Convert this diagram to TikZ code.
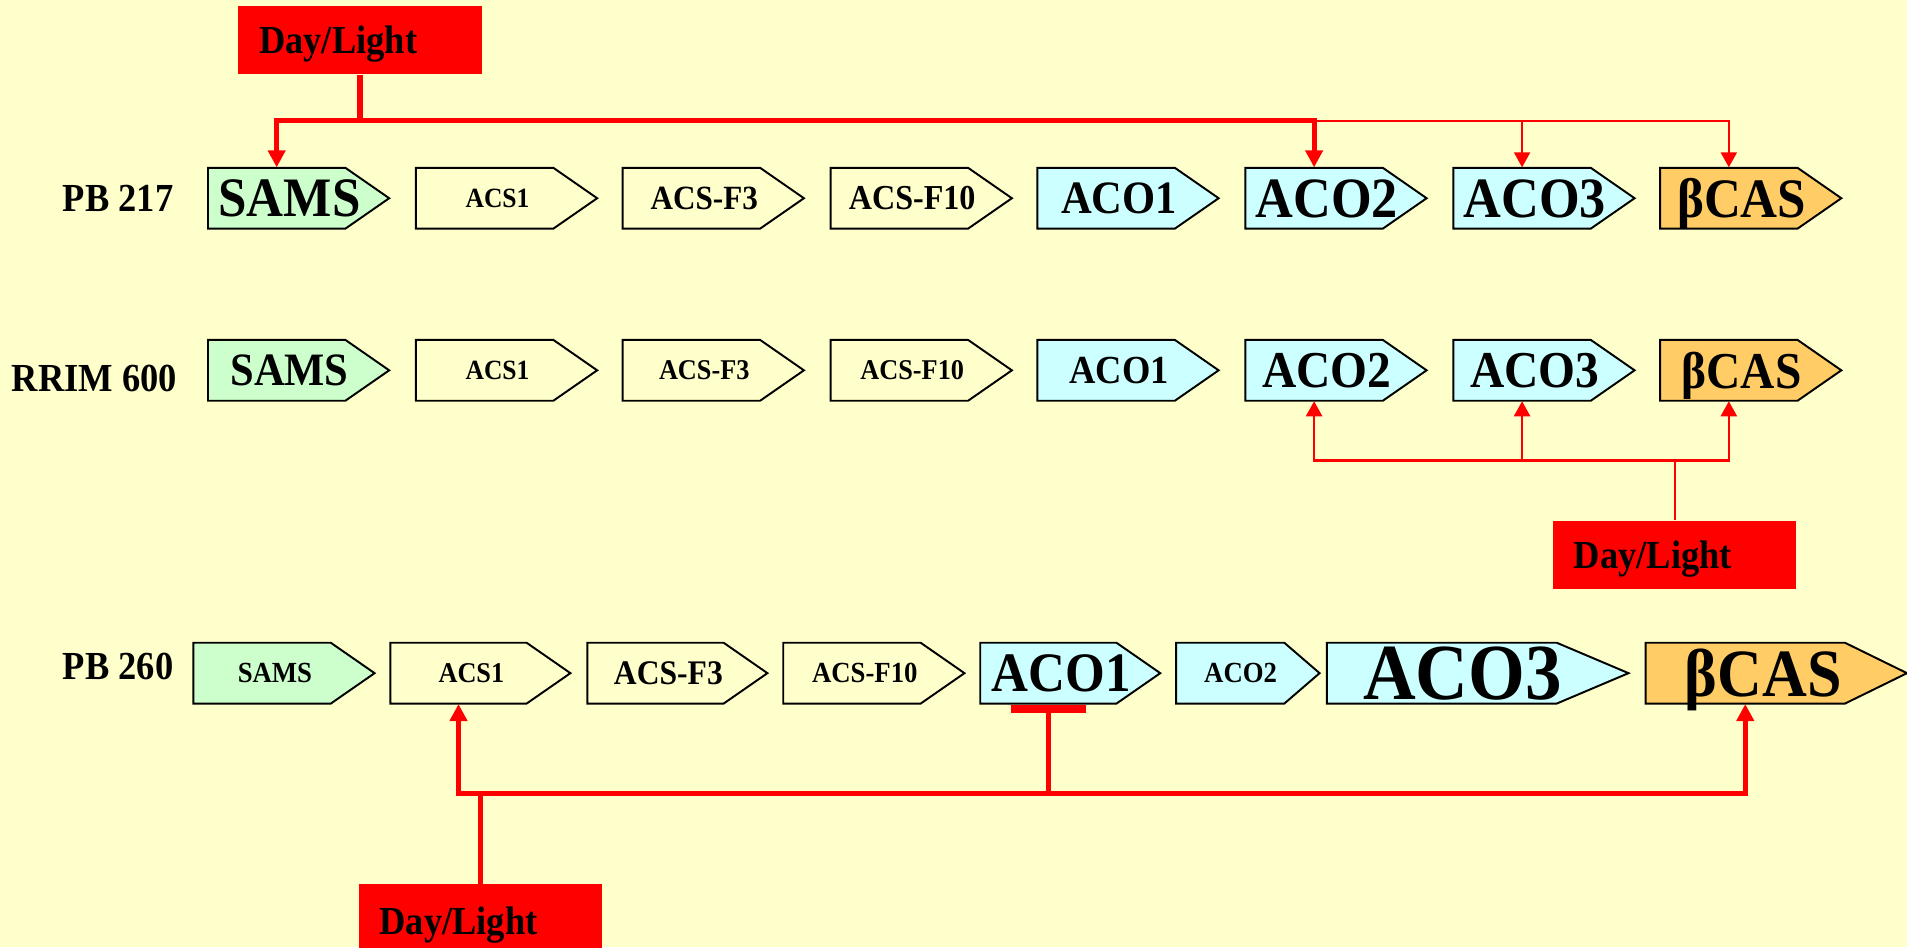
\documentclass[tikz,border=0pt]{standalone}
\usepackage{fontspec}
\setmainfont{Liberation Serif}
\usetikzlibrary{arrows.meta}
\definecolor{bgyellow}{HTML}{FFFFCC}
\definecolor{samsgreen}{HTML}{CCFFCC}
\definecolor{acocyan}{HTML}{CCFFFF}
\definecolor{casorange}{HTML}{FFCC66}
\definecolor{lightred}{HTML}{FF0000}
\newcommand\tallish[1]{\scalebox{1}[1.09]{#1}}
\tikzset{
  genebody/.style={draw=black, line width=0.8pt, line join=miter},
  genetext/.style={inner sep=0pt, text depth=0pt},
  rowlabel/.style={inner sep=0pt, text depth=0pt, anchor=east, font=\fontsize{15pt}{15pt}\selectfont\bfseries},
  daybox/.style={fill=lightred, draw=none, inner xsep=8.5pt, inner ysep=0pt, text width=83pt, align=left,
    minimum height=28pt, text depth=0pt, font=\fontsize{15pt}{15pt}\selectfont\bfseries},
  thickred/.style={draw=lightred, line width=2.1pt},
  thinred/.style={draw=lightred, line width=0.9pt},
  bigtip/.style={-{Triangle[width=7pt,length=7pt]}},
  smalltip/.style={-{Triangle[width=6.6pt,length=6.2pt]}}
}
\newcommand\bh{50}
\newcommand\genebox[8]{%
  \filldraw[genebody, fill=#6] (#2,#3) -- ++({#4-#5},0) -- ++(#5,{\bh/2}) -- ++({-#5},{\bh/2}) -- ++({#5-#4},0) -- cycle;
  \node[inner sep=0pt, minimum width={(#4-#5)*0.5pt}, minimum height={\bh*0.5pt}] (#1) at ({#2+(#4-#5)/2},{#3+\bh/2}) {};
  \node[genetext, font=\fontsize{#7pt}{#7pt}\selectfont\bfseries] (#1t) at ({#2+0.45*#4},{#3+\bh/2}) {\tallish{#8}};
}
\begin{document}
\begin{tikzpicture}[x=0.5pt, y=-0.5pt]
\fill[bgyellow] (0,0) rectangle (1568,779);
\useasboundingbox (0,0) rectangle (1568,779);

% Row 1
\node[rowlabel] (lab1) at (143,163) {\tallish{PB 217}};
\genebox{r1a}{171}{138}{149}{36}{samsgreen}{21}{SAMS}
\genebox{r1b}{342}{138}{149}{36}{bgyellow}{10.5}{ACS1}
\genebox{r1c}{512}{138}{149}{36}{bgyellow}{12.8}{ACS-F3}
\genebox{r1d}{683}{138}{149}{36}{bgyellow}{13.2}{ACS-F10}
\genebox{r1e}{853}{138}{149}{36}{acocyan}{17.5}{ACO1}
\genebox{r1f}{1024}{138}{149}{36}{acocyan}{21.5}{ACO2}
\genebox{r1g}{1195}{138}{149}{36}{acocyan}{21.5}{ACO3}
\genebox{r1h}{1365}{138}{149}{36}{casorange}{21}{βCAS}

% Row 2
\node[rowlabel] (lab2) at (146,311) {\tallish{RRIM 600}};
\genebox{r2a}{171}{279.5}{149}{36}{samsgreen}{17.5}{SAMS}
\genebox{r2b}{342}{279.5}{149}{36}{bgyellow}{10.5}{ACS1}
\genebox{r2c}{512}{279.5}{149}{36}{bgyellow}{10.8}{ACS-F3}
\genebox{r2d}{683}{279.5}{149}{36}{bgyellow}{10.8}{ACS-F10}
\genebox{r2e}{853}{279.5}{149}{36}{acocyan}{15}{ACO1}
\genebox{r2f}{1024}{279.5}{149}{36}{acocyan}{19.5}{ACO2}
\genebox{r2g}{1195}{279.5}{149}{36}{acocyan}{19.5}{ACO3}
\genebox{r2h}{1365}{279.5}{149}{36}{casorange}{19.5}{βCAS}

% Row 3
\node[rowlabel] (lab3) at (143,547.5) {\tallish{PB 260}};
\genebox{r3a}{159}{528.5}{149}{36}{samsgreen}{11}{SAMS}
\genebox{r3b}{321}{528.5}{148}{36}{bgyellow}{10.8}{ACS1}
\genebox{r3c}{483}{528.5}{148}{36}{bgyellow}{13}{ACS-F3}
\genebox{r3d}{644}{528.5}{149}{36}{bgyellow}{11}{ACS-F10}
\genebox{r3e}{806}{528.5}{148}{36}{acocyan}{21}{ACO1}
\genebox{r3f}{967}{528.5}{118}{29}{acocyan}{11}{ACO2}
\genebox{r3g}{1091}{528.5}{248}{59}{acocyan}{30}{ACO3}
\genebox{r3h}{1353}{528.5}{215}{51}{casorange}{25.5}{βCAS}

% Day/Light boxes
\node[daybox] (dlA) at (296,33) {\tallish{Day/Light}};
\node[daybox] (dlB) at (1377,456) {\tallish{Day/Light}};
\node[daybox, minimum height=30pt] (dlC) at (395,757) {\tallish{Day/Light}};

% Row 1 connectors
\path (dlA.south) ++(0,38) coordinate (j1);
\draw[thickred] (dlA.south) -- (j1);
\draw[thickred, bigtip] (j1) -| (r1a.north);
\draw[thickred, bigtip] (j1) -| (r1f.north);
\draw[thinred, smalltip] (j1 -| r1f.north) -| (r1g.north);
\draw[thinred, smalltip] (j1 -| r1g.north) -| (r1h.north);

% Row 2 connectors
\path (dlB.north) ++(0,-49) coordinate (j2);
\draw[thinred] (dlB.north) -- (j2);
\draw[thinred, smalltip] (j2) -| (r2f.south);
\draw[thinred, smalltip] (j2) -| (r2h.south);
\draw[thinred, smalltip] (j2 -| r2g.south) -- (r2g.south);

% Row 3 connectors
\path (dlC.north) ++(0,-74) coordinate (j3);
\draw[thickred] (dlC.north) -- (j3);
\draw[thickred, bigtip] (j3) -| (r3b.south);
\draw[thickred, bigtip] (j3) -| (r3h.south);
\draw[thickred] (j3 -| r3e.south) -- ([yshift=-2pt]r3e.south);
\draw[draw=lightred, line width=3.4pt] ([xshift=-15.5pt, yshift=-2.15pt]r3e.south) -- ([xshift=15.5pt, yshift=-2.15pt]r3e.south);
\end{tikzpicture}
\end{document}
